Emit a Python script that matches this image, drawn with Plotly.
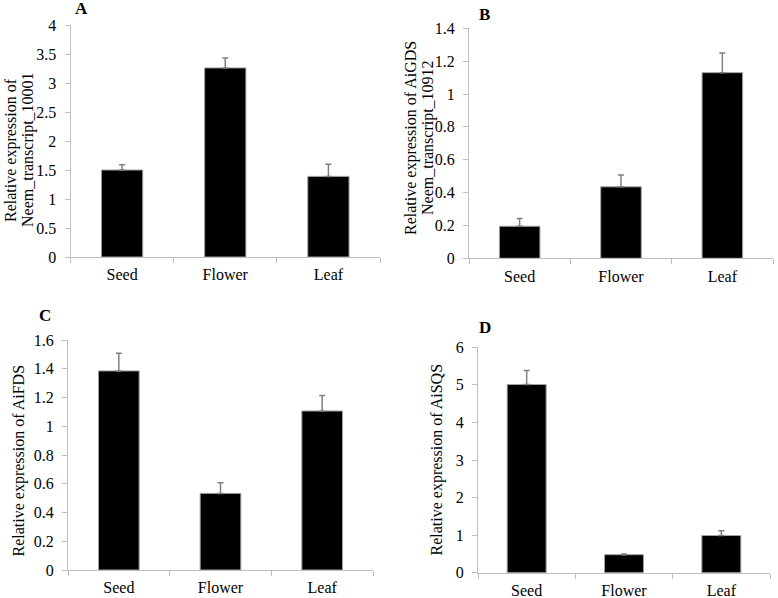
import plotly.graph_objects as go

categories = ["Seed", "Flower", "Leaf"]

a_values = [1.50, 3.26, 1.39]
a_errors = [0.09, 0.17, 0.21]
b_values = [0.195, 0.435, 1.13]
b_errors = [0.048, 0.072, 0.12]
c_values = [1.385, 0.533, 1.106]
c_errors = [0.122, 0.074, 0.108]
d_values = [5.01, 0.48, 0.99]
d_errors = [0.37, 0.02, 0.13]

a_title = ["Relative expression of", "Neem_transcript_10001"]
b_title = ["Relative expression of AiGDS", "Neem_transcript_10912"]
c_title = ["Relative expression of AiFDS"]
d_title = ["Relative expression of AiSQS"]

panels = [
    dict(letter="A", vals=a_values, errs=a_errors, ymax=4, dtick=0.5,
         title=a_title, tx=[11, 28], ty=150,
         xd=[70.5, 380], yd=[25, 257], lpos=(81, 9)),
    dict(letter="B", vals=b_values, errs=b_errors, ymax=1.4, dtick=0.2,
         title=b_title, tx=[411, 428], ty=138,
         xd=[469, 773], yd=[28.3, 258.3], lpos=(484, 15)),
    dict(letter="C", vals=c_values, errs=c_errors, ymax=1.6, dtick=0.2,
         title=c_title, tx=[18.5], ty=461,
         xd=[68, 373], yd=[340, 570], lpos=(45, 315)),
    dict(letter="D", vals=d_values, errs=d_errors, ymax=6, dtick=1,
         title=d_title, tx=[436.5], ty=460,
         xd=[478, 770], yd=[347.3, 572.7], lpos=(485, 327)),
]

W, H = 778, 598
FONT = "Liberation Serif"
AXC = "#bfbfbf"

fig = go.Figure()
layout = dict(
    width=W, height=H, margin=dict(l=0, r=0, t=0, b=0, autoexpand=False),
    paper_bgcolor="white", plot_bgcolor="white", showlegend=False,
    font=dict(family=FONT, size=16, color="black"),
)
annotations = []
for i, p in enumerate(panels, start=1):
    xa = "x" if i == 1 else f"x{i}"
    ya = "y" if i == 1 else f"y{i}"
    fig.add_trace(go.Bar(
        x=categories, y=p["vals"], xaxis=xa, yaxis=ya, width=0.4,
        marker=dict(color="black", line=dict(color="#a0a0a0", width=1)),
        error_y=dict(type="data", array=p["errs"], arrayminus=[0, 0, 0],
                     symmetric=False, color="#808080", thickness=1.5, width=3),
    ))
    xkey = "xaxis" if i == 1 else f"xaxis{i}"
    ykey = "yaxis" if i == 1 else f"yaxis{i}"
    layout[xkey] = dict(
        domain=[p["xd"][0] / W, p["xd"][1] / W], anchor=ya, automargin=False,
        type="category", range=[-0.5, 2.5], tickson="boundaries",
        showline=True, linecolor=AXC, linewidth=1,
        ticks="outside", ticklen=5, tickcolor=AXC, ticklabelstandoff=3,
        showgrid=False, zeroline=False,
        tickfont=dict(family=FONT, size=16, color="black"),
    )
    layout[ykey] = dict(
        domain=[1 - p["yd"][1] / H, 1 - p["yd"][0] / H], anchor=xa, automargin=False,
        range=[0, p["ymax"]], dtick=p["dtick"], tick0=0,
        showline=True, linecolor=AXC, linewidth=1,
        ticks="outside", ticklen=5, tickcolor=AXC, ticklabelstandoff=5,
        showgrid=False, zeroline=False,
        tickfont=dict(family=FONT, size=16, color="black"),
    )
    for line, tx in zip(p["title"], p["tx"]):
        annotations.append(dict(
            text=line, x=tx / W, y=1 - p["ty"] / H, xref="paper", yref="paper",
            showarrow=False, textangle=-90, xanchor="center", yanchor="middle",
            font=dict(family=FONT, size=16, color="black"),
        ))
    annotations.append(dict(
        text=f"<b>{p['letter']}</b>", x=p["lpos"][0] / W, y=1 - p["lpos"][1] / H,
        xref="paper", yref="paper", showarrow=False,
        font=dict(family=FONT, size=17, color="black"),
        xanchor="center", yanchor="middle",
    ))
layout["annotations"] = annotations
fig.update_layout(**layout)
fig.write_html(
    "out.html",
    config={"displayModeBar": False},
    post_script="document.body.style.margin='0';document.body.style.overflow='hidden';",
)
